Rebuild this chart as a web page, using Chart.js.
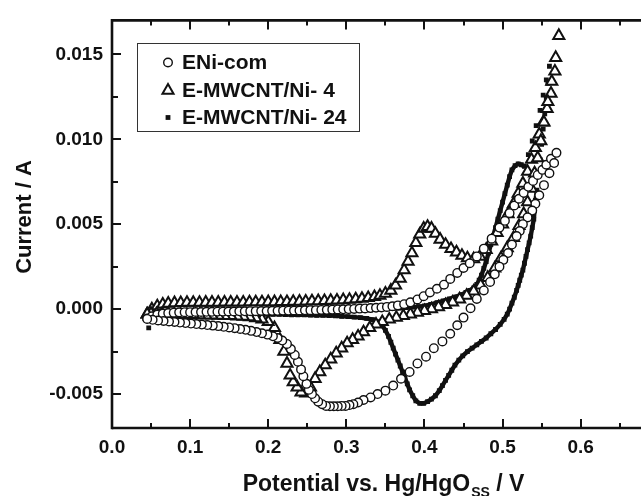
<!DOCTYPE html>
<html>
<head>
<meta charset="utf-8">
<script src="https://cdn.jsdelivr.net/npm/chart.js@4.4.1/dist/chart.umd.min.js"></script>
<style>
  html, body { margin: 0; padding: 0; background: #fff; overflow: hidden; }
  #wrap { width: 680px; height: 496px; }
</style>
</head>
<body>
<div id="wrap"><canvas id="myChart" width="680" height="496"></canvas></div>
<script>
// potentials in V, currents in mA (converted to A for the axis)
const seriesLabels = ['ENi-com', 'E-MWCNT/Ni- 4', 'E-MWCNT/Ni- 24'];

// ENi-com (open circles)
const eniFwdV = [0.045,0.051,0.058,0.065,0.072,0.079,0.086,0.093,0.100,0.107,
  0.114,0.121,0.128,0.135,0.142,0.149,0.156,0.163,0.170,0.177,
  0.184,0.191,0.198,0.205,0.212,0.219,0.226,0.233,0.240,0.247,
  0.254,0.261,0.268,0.275,0.282,0.289,0.296,0.303,0.310,0.317,
  0.324,0.331,0.338,0.345,0.352,0.359,0.366,0.374,0.382,0.391,
  0.399,0.407,0.416,0.425,0.433,0.442,0.450,0.458,0.467,0.476,
  0.486,0.496,0.503,0.509,0.515,0.521,0.527,0.533,0.539,0.545,
  0.551,0.556,0.562,0.569];
const eniFwdI = [-0.55,-0.42,-0.33,-0.27,-0.23,-0.21,-0.19,-0.18,-0.18,-0.17,
  -0.17,-0.16,-0.16,-0.15,-0.15,-0.14,-0.14,-0.13,-0.13,-0.12,
  -0.12,-0.11,-0.11,-0.10,-0.10,-0.09,-0.09,-0.08,-0.08,-0.07,
  -0.06,-0.06,-0.05,-0.04,-0.03,-0.02,-0.01,0.00,0.01,0.03,
  0.04,0.06,0.08,0.10,0.13,0.17,0.22,0.29,0.40,0.57,
  0.76,0.98,1.20,1.44,1.78,2.13,2.42,2.70,3.10,3.56,
  4.15,4.80,5.20,5.65,6.10,6.50,6.85,7.20,7.55,7.90,
  8.20,8.50,8.85,9.20];
const eniRevV = [0.566,0.560,0.553,0.547,0.542,0.538,0.532,0.526,0.522,0.518,
  0.512,0.507,0.501,0.496,0.490,0.484,0.476,0.467,0.459,0.450,
  0.442,0.433,0.423,0.412,0.402,0.391,0.381,0.370,0.360,0.350,
  0.340,0.331,0.322,0.315,0.309,0.304,0.299,0.294,0.289,0.284,
  0.279,0.274,0.269,0.264,0.260,0.256,0.252,0.249,0.245,0.242,
  0.238,0.234,0.229,0.224,0.218,0.212,0.206,0.199,0.192,0.185,
  0.178,0.171,0.164,0.157,0.150,0.143,0.136,0.129,0.122,0.115,
  0.108,0.101,0.094,0.087,0.080,0.073,0.066,0.059,0.052,0.045];
const eniRevI = [8.6,8.0,7.3,6.7,6.2,5.8,5.4,5.0,4.6,4.3,
  3.8,3.3,2.9,2.5,2.05,1.6,1.1,0.6,0.05,-0.5,
  -0.95,-1.45,-1.9,-2.3,-2.8,-3.2,-3.7,-4.1,-4.5,-4.8,
  -5.0,-5.2,-5.35,-5.5,-5.6,-5.65,-5.7,-5.7,-5.72,-5.72,
  -5.72,-5.7,-5.6,-5.45,-5.25,-5.0,-4.75,-4.4,-3.95,-3.55,
  -3.1,-2.7,-2.35,-2.05,-1.85,-1.7,-1.6,-1.5,-1.42,-1.35,
  -1.28,-1.22,-1.17,-1.12,-1.08,-1.04,-1.0,-0.97,-0.94,-0.91,
  -0.88,-0.85,-0.82,-0.79,-0.76,-0.73,-0.7,-0.67,-0.63,-0.58];

// E-MWCNT/Ni- 4 (open triangles)
const ni4FwdV = [0.045,0.051,0.058,0.065,0.072,0.080,0.088,0.096,0.104,0.112,
  0.120,0.128,0.136,0.144,0.152,0.160,0.168,0.176,0.184,0.192,
  0.200,0.208,0.216,0.224,0.232,0.240,0.248,0.256,0.264,0.272,
  0.280,0.288,0.296,0.304,0.312,0.320,0.328,0.336,0.343,0.350,
  0.357,0.363,0.369,0.374,0.379,0.384,0.389,0.394,0.399,0.404,
  0.409,0.414,0.420,0.427,0.434,0.441,0.448,0.455,0.463,0.471,
  0.479,0.486,0.493,0.500,0.507,0.514,0.520,0.526,0.532,0.537,
  0.542,0.547,0.552,0.557,0.562,0.567,0.572];
const ni4FwdI = [-0.30,0.00,0.18,0.28,0.33,0.36,0.37,0.38,0.38,0.38,
  0.39,0.39,0.39,0.40,0.40,0.40,0.40,0.41,0.41,0.41,
  0.42,0.42,0.43,0.43,0.44,0.45,0.46,0.47,0.48,0.49,
  0.50,0.52,0.54,0.56,0.59,0.62,0.66,0.72,0.80,0.92,
  1.10,1.40,1.80,2.30,2.80,3.30,3.90,4.40,4.75,4.85,
  4.75,4.45,4.10,3.80,3.55,3.35,3.15,3.00,2.95,3.10,
  3.50,4.00,4.50,5.00,5.60,6.20,6.80,7.40,8.10,8.80,
  9.50,10.30,11.00,11.80,12.70,14.00,16.10];
const ni4RevV = [0.568,0.563,0.558,0.553,0.549,0.545,0.541,0.537,0.532,0.527,
  0.521,0.514,0.506,0.498,0.490,0.481,0.472,0.463,0.454,0.445,
  0.436,0.427,0.418,0.409,0.400,0.391,0.382,0.373,0.364,0.355,
  0.346,0.338,0.330,0.322,0.315,0.308,0.301,0.294,0.287,0.280,
  0.273,0.266,0.260,0.254,0.248,0.242,0.237,0.232,0.228,0.224,
  0.220,0.215,0.208,0.200,0.192,0.184,0.176,0.168,0.160,0.152,
  0.144,0.136,0.128,0.120,0.112,0.104,0.096,0.088,0.080,0.072,
  0.064,0.057,0.050,0.045];
const ni4RevI = [14.8,13.4,12.2,11.0,9.9,8.9,8.0,7.1,6.3,5.6,
  4.9,4.2,3.6,3.0,2.4,1.85,1.4,1.05,0.8,0.58,
  0.4,0.25,0.12,0.0,-0.1,-0.2,-0.3,-0.4,-0.5,-0.6,
  -0.75,-0.9,-1.1,-1.35,-1.6,-1.8,-2.0,-2.3,-2.6,-2.95,
  -3.3,-3.7,-4.1,-4.6,-4.95,-4.9,-4.6,-4.3,-3.9,-3.2,
  -2.5,-1.8,-1.1,-0.75,-0.6,-0.52,-0.47,-0.44,-0.42,-0.4,
  -0.39,-0.38,-0.37,-0.36,-0.35,-0.34,-0.33,-0.32,-0.31,-0.3,
  -0.29,-0.28,-0.27,-0.3];

// E-MWCNT/Ni- 24 (filled squares)
const ni24FwdV = [0.047,0.056,0.064,0.072,0.080,0.088,0.096,0.104,0.112,0.120,
  0.128,0.136,0.144,0.152,0.160,0.168,0.176,0.184,0.192,0.200,
  0.208,0.216,0.224,0.232,0.240,0.248,0.256,0.264,0.272,0.280,
  0.288,0.296,0.304,0.312,0.320,0.328,0.336,0.344,0.352,0.360,
  0.368,0.376,0.384,0.392,0.400,0.408,0.416,0.424,0.432,0.440,
  0.447,0.453,0.458,0.463,0.467,0.470,0.473,0.476,0.479,0.482,
  0.485,0.488,0.491,0.494,0.497,0.500,0.503,0.506,0.509,0.512,
  0.516,0.520,0.524,0.528,0.533,0.538,0.543,0.548,0.552,0.556,
  0.560];
const ni24FwdI = [-1.10,-0.38,-0.30,-0.26,-0.24,-0.22,-0.21,-0.20,-0.19,-0.18,
  -0.18,-0.17,-0.17,-0.16,-0.16,-0.15,-0.15,-0.14,-0.14,-0.13,
  -0.13,-0.12,-0.12,-0.11,-0.11,-0.10,-0.10,-0.09,-0.09,-0.08,
  -0.08,-0.07,-0.06,-0.05,-0.04,-0.03,-0.02,0.00,0.02,0.04,
  0.06,0.09,0.12,0.15,0.19,0.28,0.38,0.48,0.60,0.72,
  0.85,0.98,1.10,1.25,1.45,1.70,2.00,2.40,2.80,3.30,
  3.80,4.30,4.80,5.30,5.80,6.30,6.80,7.30,7.80,8.20,
  8.45,8.55,8.50,8.40,9.10,9.90,10.80,11.70,12.60,13.50,
  14.30];
const ni24RevV = [0.558,0.556,0.554,0.552,0.550,0.548,0.546,0.544,0.542,0.541,
  0.540,0.538,0.536,0.534,0.532,0.530,0.528,0.526,0.524,0.522,
  0.520,0.518,0.515,0.512,0.509,0.506,0.502,0.497,0.491,0.485,
  0.479,0.473,0.467,0.461,0.455,0.449,0.444,0.439,0.435,0.431,
  0.427,0.423,0.419,0.414,0.409,0.404,0.399,0.394,0.389,0.385,
  0.381,0.378,0.375,0.372,0.369,0.366,0.363,0.360,0.357,0.354,
  0.350,0.346,0.341,0.334,0.326,0.318,0.310,0.302,0.294,0.286,
  0.278,0.270,0.262,0.254,0.246,0.238,0.230,0.222,0.214,0.206,
  0.198,0.190,0.182,0.174,0.166,0.158,0.150,0.142,0.134,0.126,
  0.118,0.110,0.102,0.094,0.086,0.078,0.070,0.062,0.054];
const ni24RevI = [13.3,12.4,11.5,10.6,9.7,8.8,7.9,7.0,6.4,5.8,
  5.3,4.8,4.3,3.9,3.5,3.1,2.7,2.3,2.0,1.7,
  1.4,1.1,0.7,0.35,0.0,-0.3,-0.6,-0.9,-1.2,-1.45,
  -1.7,-1.9,-2.1,-2.3,-2.5,-2.75,-3.0,-3.3,-3.6,-3.9,
  -4.2,-4.5,-4.8,-5.1,-5.3,-5.45,-5.55,-5.55,-5.4,-5.1,
  -4.75,-4.4,-4.05,-3.7,-3.35,-3.0,-2.65,-2.3,-1.95,-1.6,
  -1.25,-0.95,-0.75,-0.62,-0.55,-0.5,-0.47,-0.44,-0.42,-0.4,
  -0.38,-0.37,-0.36,-0.35,-0.34,-0.33,-0.33,-0.32,-0.31,-0.31,
  -0.3,-0.3,-0.29,-0.29,-0.28,-0.28,-0.27,-0.27,-0.26,-0.26,
  -0.25,-0.25,-0.24,-0.24,-0.23,-0.23,-0.22,-0.22,-0.22];

const FONT = '"Liberation Sans", Arial, sans-serif';
const INK = '#111';

function toPoints(vs, is) {
  return vs.map((v, i) => ({ x: v, y: is[i] / 1000 }));
}

// squares look like a solid chain where they sit close together
function chainColor(ctx) {
  const a = ctx.p0, b = ctx.p1;
  return Math.hypot(b.x - a.x, b.y - a.y) > 11 ? 'rgba(0,0,0,0)' : INK;
}

const frame = {
  id: 'frame',
  afterDraw(chart) {
    const ctx = chart.ctx;
    const a = chart.chartArea;
    const sx = chart.scales.x, sy = chart.scales.y;
    ctx.save();
    ctx.strokeStyle = INK;
    ctx.lineCap = 'butt';

    function seg(x1, y1, x2, y2) {
      ctx.beginPath(); ctx.moveTo(x1, y1); ctx.lineTo(x2, y2); ctx.stroke();
    }

    // inward ticks
    ctx.lineWidth = 2;
    sx.ticks.forEach(t => {
      const px = Math.round(sx.getPixelForValue(t.value));
      const len = t.label ? 9 : 5;
      seg(px, a.bottom, px, a.bottom - len);
      seg(px, a.top, px, a.top + len);
    });
    sy.ticks.forEach(t => {
      const py = Math.round(sy.getPixelForValue(t.value));
      const len = t.label ? 9 : 6;
      seg(a.left, py, a.left + len, py);
    });

    // frame
    ctx.lineWidth = 2.6;
    seg(a.left, a.top, a.right, a.top);
    seg(a.left, a.top - 1.3, a.left, a.bottom + 1.3);
    seg(a.left, a.bottom, a.right, a.bottom);
    seg(a.right, a.top, a.right, a.bottom);

    // legend box
    ctx.lineWidth = 1;
    ctx.strokeStyle = '#333';
    ctx.strokeRect(137.5, 43.5, 222, 88);
    const rows = [62, 90, 117];
    ctx.font = 'bold 21px ' + FONT;
    ctx.textBaseline = 'middle';
    ctx.textAlign = 'left';
    chart.data.datasets.forEach((ds, i) => {
      ctx.fillStyle = ds.pointBackgroundColor;
      ctx.strokeStyle = ds.pointBorderColor;
      ctx.lineWidth = ds.pointBorderWidth;
      Chart.helpers.drawPoint(ctx, {
        pointStyle: ds.pointStyle, rotation: 0,
        radius: ds.pointRadius, borderWidth: ds.pointBorderWidth
      }, 168, rows[i] + 0.5);
      ctx.fillStyle = INK;
      ctx.fillText(ds.label, 182, rows[i] + 1);
    });

    // axis titles
    ctx.fillStyle = INK;
    ctx.textBaseline = 'alphabetic';
    const big = 'bold 23px ' + FONT, small = 'bold 14px ' + FONT;
    const p1 = 'Potential vs. Hg/HgO', p2 = 'SS', p3 = ' / V';
    ctx.font = big; const w1 = ctx.measureText(p1).width, w3 = ctx.measureText(p3).width;
    ctx.font = small; const w2 = ctx.measureText(p2).width;
    let x0 = 383 - (w1 + w2 + w3) / 2;
    ctx.font = big; ctx.fillText(p1, x0, 491);
    ctx.font = small; ctx.fillText(p2, x0 + w1 + 1, 497);
    ctx.font = big; ctx.fillText(p3, x0 + w1 + w2 + 1, 491);

    ctx.save();
    ctx.translate(25, 217);
    ctx.rotate(-Math.PI / 2);
    ctx.font = 'bold 22px ' + FONT;
    ctx.textAlign = 'center';
    ctx.textBaseline = 'middle';
    ctx.fillText('Current / A', 0, 0);
    ctx.restore();

    ctx.restore();
  }
};

const ctx = document.getElementById('myChart').getContext('2d');
const myChart = new Chart(ctx, {
  type: 'scatter',
  data: {
    datasets: [{
      label: seriesLabels[0],
      data: toPoints(eniFwdV.concat(eniRevV), eniFwdI.concat(eniRevI)),
      pointStyle: 'circle',
      pointRadius: 4.3,
      pointBorderWidth: 1.4,
      pointBorderColor: INK,
      pointBackgroundColor: '#fff'
    }, {
      label: seriesLabels[1],
      data: toPoints(ni4FwdV.concat(ni4RevV), ni4FwdI.concat(ni4RevI)),
      pointStyle: 'triangle',
      pointRadius: 6.4,
      pointBorderWidth: 2,
      pointBorderColor: INK,
      pointBackgroundColor: '#fff'
    }, {
      label: seriesLabels[2],
      data: toPoints(ni24FwdV.concat(ni24RevV), ni24FwdI.concat(ni24RevI)),
      showLine: true,
      borderWidth: 4.4,
      borderColor: INK,
      segment: { borderColor: chainColor },
      pointStyle: 'rect',
      pointRadius: 3.4,
      pointBorderWidth: 0,
      pointBorderColor: INK,
      pointBackgroundColor: INK
    }]
  },
  options: {
    responsive: false,
    animation: false,
    devicePixelRatio: 1,
    events: [],
    layout: { padding: { top: 13, right: 16, left: 0, bottom: 0 } },
    plugins: { legend: { display: false }, tooltip: { enabled: false } },
    scales: {
      x: {
        type: 'linear',
        min: 0, max: 0.7,
        afterFit: s => { s.height = 68; },
        grid: { display: false, drawTicks: false },
        border: { display: false },
        ticks: {
          stepSize: 0.05,
          includeBounds: false,
          autoSkip: false,
          maxRotation: 0,
          padding: 8,
          color: INK,
          font: { family: FONT, size: 19, weight: 'bold' },
          callback: v => Math.round(v / 0.05) % 2 === 0 ? v.toFixed(1) : ''
        }
      },
      y: {
        type: 'linear',
        min: -0.007, max: 0.017,
        afterFit: s => { s.width = 112; },
        grid: { display: false, drawTicks: false },
        border: { display: false },
        ticks: {
          stepSize: 0.0025,
          includeBounds: false,
          autoSkip: false,
          padding: 9,
          color: INK,
          font: { family: FONT, size: 19, weight: 'bold' },
          callback: v => Math.abs(Math.round(v / 0.0025)) % 2 === 0 ? v.toFixed(3) : ''
        }
      }
    }
  },
  plugins: [frame]
});
</script>
</body>
</html>
